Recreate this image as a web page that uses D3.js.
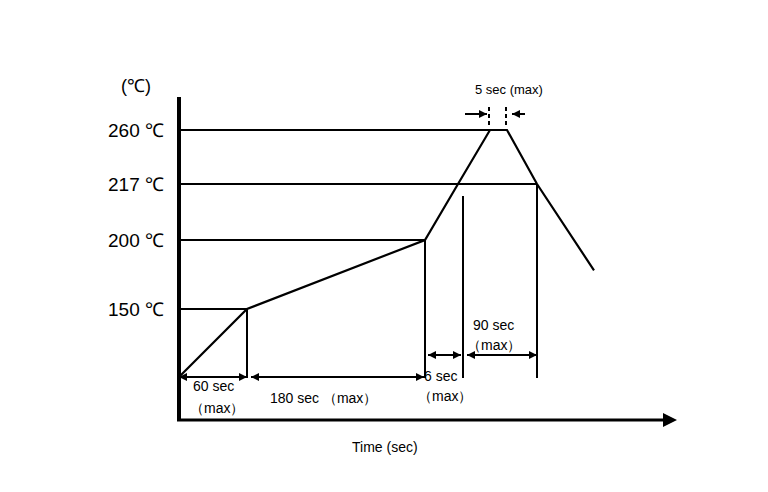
<!DOCTYPE html><html><head><meta charset="utf-8"><script src="https://cdn.jsdelivr.net/npm/d3@7"></script>
<style>body{margin:0;background:#fff}text{font-family:Arial,"Liberation Sans",sans-serif;fill:#000}</style></head><body>
<svg id="c" width="768" height="492"></svg>
<script>
const times=[0,60,240,244,255,260,290,340];
const temps=[25,150,200,217,260,260,217,178];
const levels=[150,200,217,260];
const levelLabels=["150 ℃","200 ℃","217 ℃","260 ℃"];
const svg=d3.select("#c");
const x=d3.scaleLinear().domain([0,60,240,244,246,255,260,290,340]).range([179,247,425,458,463,490,507,537,594]);
const y=d3.scaleLinear().domain([25,150,200,217,260]).range([377,309,240,184,130]);
svg.append("defs").append("marker").attr("id","ah").attr("viewBox","0 0 10 10").attr("refX",10).attr("refY",5)
 .attr("markerWidth",10).attr("markerHeight",8).attr("markerUnits","userSpaceOnUse").attr("orient","auto-start-reverse")
 .append("path").attr("d","M0,0L10,5L0,10z").attr("fill","#000");
const L=(x1,y1,x2,y2,w=2)=>svg.append("line").attr("x1",x1).attr("y1",y1).attr("x2",x2).attr("y2",y2).attr("stroke","#000").attr("stroke-width",w);
L(179,97,179,421,4);
L(177,420,665,420,3);
svg.append("path").attr("d","M663,413L677,420L663,427z").attr("fill","#000");
const ends={150:60,200:240,217:290,260:255};
levels.forEach((v,i)=>{L(179,y(v),x(ends[v]),y(v));
 svg.append("text").attr("x",108).attr("y",y(v)+7).attr("font-size",19).text(levelLabels[i]);});
svg.append("text").attr("x",121).attr("y",92).attr("font-size",18).text("(℃)");
svg.append("path").datum(times.map((t,i)=>[t,temps[i]])).attr("d",d3.line().x(d=>x(d[0])).y(d=>y(d[1])))
 .attr("fill","none").attr("stroke","#000").attr("stroke-width",2.2);
L(x(60),y(150),x(60),y(25)+1);L(x(240),y(200),x(240),y(25)+1);
L(x(246),y(217)+12,x(246),y(25)+1);L(x(290),y(217),x(290),y(25)+1);
const A=(x1,x2,yy,w=2)=>L(x1,yy,x2,yy,w).attr("marker-start","url(#ah)").attr("marker-end","url(#ah)");
A(179,247,y(25));A(251,424,y(25));A(428,461,355);A(467,537,355);
L(465,114,487,114).attr("marker-end","url(#ah)");
L(525,114,512,114).attr("marker-end","url(#ah)");
L(x(255)-1,107,x(255)-1,128,2).attr("stroke-dasharray","4,3");
L(x(260)-1,107,x(260)-1,128,2).attr("stroke-dasharray","4,3");
const T=(tx,ty,s,fs=14)=>svg.append("text").attr("x",tx).attr("y",ty).attr("font-size",fs).text(s);
T(475,94,"5 sec (max)",13);
T(193,391,"60 sec");T(190,413,"（max）");
T(270,403,"180 sec （max）");
T(424,381,"6 sec");T(418,401,"（max）");
T(473,330,"90 sec");T(467,350,"（max）");
T(352,452,"Time (sec)");
</script></body></html>
